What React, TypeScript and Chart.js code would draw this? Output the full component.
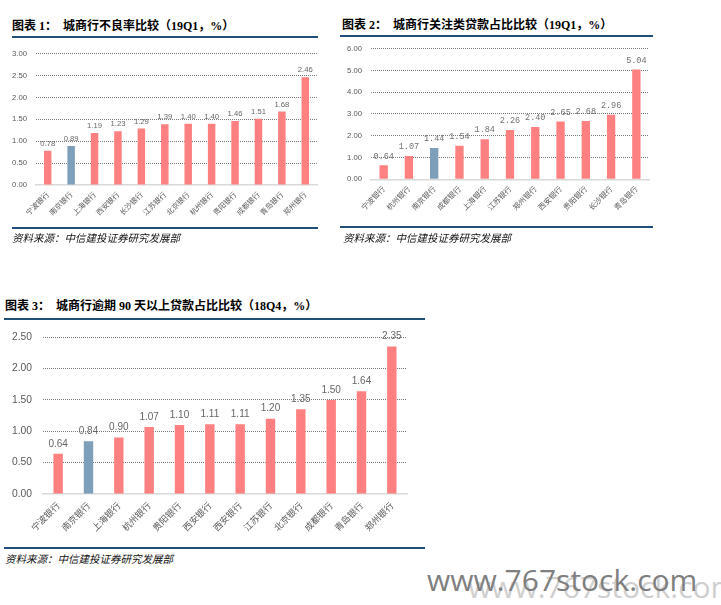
import React, { useEffect, useRef } from "react";
import { Chart, registerables } from "chart.js";

Chart.register(...registerables);

// ---------- data ----------
const banks1 = ["宁波银行", "南京银行", "上海银行", "西安银行", "长沙银行", "江苏银行", "北京银行", "杭州银行", "贵阳银行", "成都银行", "青岛银行", "郑州银行"];
const npl1 = [0.78, 0.89, 1.19, 1.23, 1.29, 1.39, 1.4, 1.4, 1.46, 1.51, 1.68, 2.46];
const ticks1 = [0, 0.5, 1, 1.5, 2, 2.5, 3];

const banks2 = ["宁波银行", "杭州银行", "南京银行", "成都银行", "上海银行", "江苏银行", "郑州银行", "西安银行", "贵阳银行", "长沙银行", "青岛银行"];
const special2 = [0.64, 1.07, 1.44, 1.54, 1.84, 2.26, 2.4, 2.65, 2.68, 2.96, 5.04];
const ticks2 = [0, 1, 2, 3, 4, 5, 6];

const banks3 = ["宁波银行", "南京银行", "上海银行", "杭州银行", "贵阳银行", "西安银行", "西安银行", "江苏银行", "北京银行", "成都银行", "青岛银行", "郑州银行"];
const overdue3 = [0.64, 0.84, 0.9, 1.07, 1.1, 1.11, 1.11, 1.2, 1.35, 1.5, 1.64, 2.35];
const ticks3 = [0, 0.5, 1, 1.5, 2, 2.5];

const highlightBank = "南京银行";
const PINK = "#ff8080";
const BLUE = "#7d9fba";
const LINE_BLUE = "#1f4e79";

type Cfg = {
  labels: string[];
  values: number[];
  ticks: number[];
  left: number;
  top: number;
  width: number;
  height: number;
  yWidth: number;
  xHeight: number;
  padding: { top: number; right: number; left: number; bottom: number };
  barPct: number;
  tickFont: number;
  tickPad: number;
  catFont: number;
  catPad: number;
  valFont: string;
  valColor: string;
  valOffset: number;
};

function BarChart({ cfg }: { cfg: Cfg }) {
  const ref = useRef<HTMLCanvasElement | null>(null);
  useEffect(() => {
    if (!ref.current) return;
    const valuePlugin = {
      id: "valueLabels",
      afterDatasetsDraw(chart: any) {
        const ctx = chart.ctx;
        const meta = chart.getDatasetMeta(0);
        const data = chart.data.datasets[0].data as number[];
        ctx.save();
        ctx.font = cfg.valFont;
        ctx.fillStyle = cfg.valColor;
        ctx.textAlign = "center";
        ctx.textBaseline = "middle";
        meta.data.forEach((bar: any, i: number) => {
          ctx.fillText(data[i].toFixed(2), bar.x, bar.y - cfg.valOffset);
        });
        ctx.restore();
      },
    };
    const chart = new Chart(ref.current, {
      type: "bar",
      data: {
        labels: cfg.labels,
        datasets: [
          {
            data: cfg.values,
            backgroundColor: cfg.labels.map((l) => (l === highlightBank ? BLUE : PINK)),
            barPercentage: cfg.barPct,
            categoryPercentage: 1,
          },
        ],
      },
      options: {
        animation: false,
        responsive: false,
        maintainAspectRatio: false,
        layout: { padding: cfg.padding },
        plugins: { legend: { display: false }, tooltip: { enabled: false }, title: { display: false } },
        scales: {
          x: {
            grid: { display: false, drawTicks: false },
            border: { display: true, color: "#d9d9d9", width: 1.5 },
            ticks: {
              autoSkip: false,
              maxRotation: 45,
              minRotation: 45,
              padding: cfg.catPad,
              color: "#595959",
              font: { family: '"Noto Sans CJK SC", sans-serif', size: cfg.catFont },
            },
            afterFit: (s: any) => {
              s.height = cfg.xHeight;
            },
          },
          y: {
            min: cfg.ticks[0],
            max: cfg.ticks[cfg.ticks.length - 1],
            afterBuildTicks: (s: any) => {
              s.ticks = cfg.ticks.map((v) => ({ value: v }));
            },
            grid: {
              drawTicks: false,
              color: (c: any) => (c.tick && c.tick.value === 0 ? "rgba(0,0,0,0)" : "#7a7a7a"),
              lineWidth: 1,
              borderDash: [1, 1],
            },
            border: { display: false, dash: [1, 1] },
            ticks: {
              padding: cfg.tickPad,
              color: "#595959",
              font: { family: '"Liberation Sans", Arial, sans-serif', size: cfg.tickFont },
              callback: (v: any) => Number(v).toFixed(2),
            },
            afterFit: (s: any) => {
              s.width = cfg.yWidth;
            },
          },
        },
      } as any,
      plugins: [valuePlugin],
    });
    return () => chart.destroy();
  }, [cfg]);
  return (
    <canvas
      ref={ref}
      width={cfg.width}
      height={cfg.height}
      style={{ position: "absolute", left: cfg.left, top: cfg.top, width: cfg.width, height: cfg.height }}
    />
  );
}

const cfg1: Cfg = {
  labels: banks1,
  values: npl1,
  ticks: ticks1,
  left: 0,
  top: 40,
  width: 320,
  height: 195,
  yWidth: 36,
  xHeight: 50,
  padding: { top: 12.7, right: 3, left: 0, bottom: 0 },
  barPct: 0.32,
  tickFont: 7.7,
  tickPad: 9,
  catFont: 7.3,
  catPad: 5,
  valFont: '7.7px "Liberation Sans", Arial, sans-serif',
  valColor: "#666666",
  valOffset: 7,
};

const cfg2: Cfg = {
  labels: banks2,
  values: special2,
  ticks: ticks2,
  left: 340,
  top: 35,
  width: 315,
  height: 195,
  yWidth: 31,
  xHeight: 50.7,
  padding: { top: 12.3, right: 6, left: 0, bottom: 0 },
  barPct: 0.33,
  tickFont: 7.7,
  tickPad: 9,
  catFont: 7.5,
  catPad: 5,
  valFont: '8.5px "Liberation Mono", monospace',
  valColor: "#707070",
  valOffset: 9,
};

const cfg3: Cfg = {
  labels: banks3,
  values: overdue3,
  ticks: ticks3,
  left: 0,
  top: 320,
  width: 410,
  height: 225,
  yWidth: 43,
  xHeight: 51,
  padding: { top: 12, right: 3, left: 0, bottom: 0 },
  barPct: 0.31,
  tickFont: 10.3,
  tickPad: 11,
  catFont: 9,
  catPad: 6,
  valFont: '10px "Liberation Sans", Arial, sans-serif',
  valColor: "#666666",
  valOffset: 10,
};

const titleFont = '"Liberation Serif", "Noto Sans CJK SC", serif';
const srcFont = '"Noto Sans CJK SC", sans-serif';

function Title({ left, cy, num, text }: { left: number; cy: number; num: string; text: string }) {
  return (
    <div
      style={{
        position: "absolute",
        left,
        top: cy - 8,
        lineHeight: "16px",
        fontSize: 12,
        fontWeight: 700,
        fontFamily: titleFont,
        color: "#000",
        whiteSpace: "nowrap",
      }}
    >
      <span>{"图表 " + num + "："}</span>
      <span style={{ marginLeft: 6 }}>{text}</span>
    </div>
  );
}

function Source({ left, cy }: { left: number; cy: number }) {
  return (
    <div
      style={{
        position: "absolute",
        left,
        top: cy - 8,
        lineHeight: "16px",
        fontSize: 10.5,
        fontStyle: "italic",
        fontFamily: srcFont,
        color: "#111",
        whiteSpace: "nowrap",
      }}
    >
      资料来源：中信建投证券研究发展部
    </div>
  );
}

function HLine({ left, top, width, h }: { left: number; top: number; width: number; h: number }) {
  return <div style={{ position: "absolute", left, top, width, height: h, background: LINE_BLUE }} />;
}

export default function App() {
  return (
    <div
      style={{
        position: "absolute",
        left: 0,
        top: 0,
        width: 721,
        height: 605,
        background: "#fff",
        overflow: "hidden",
      }}
    >
      <Title left={12} cy={26} num="1" text="城商行不良率比较（19Q1，%）" />
      <HLine left={12} top={36} width={306} h={2} />
      <BarChart cfg={cfg1} />
      <HLine left={12} top={227} width={306} h={1.5} />
      <Source left={12} cy={238} />

      <Title left={342} cy={25} num="2" text="城商行关注类贷款占比比较（19Q1，%）" />
      <HLine left={340} top={35} width={313} h={2} />
      <BarChart cfg={cfg2} />
      <HLine left={340} top={226} width={313} h={1.5} />
      <Source left={343} cy={238} />

      <Title left={5} cy={306} num="3" text="城商行逾期 90 天以上贷款占比比较（18Q4，%）" />
      <HLine left={4} top={318} width={421} h={2} />
      <BarChart cfg={cfg3} />
      <HLine left={4} top={547} width={421} h={1.5} />
      <Source left={5} cy={559} />

      <div
        style={{
          position: "absolute",
          left: 468,
          top: 569,
          fontSize: 30,
          lineHeight: "36px",
          fontFamily: '"Open Sans", sans-serif',
          color: "#cfcfcf",
          whiteSpace: "nowrap",
        }}
      >
        www.767stock.com
      </div>
      <div
        style={{
          position: "absolute",
          left: 427,
          top: 562,
          fontSize: 30,
          lineHeight: "36px",
          fontFamily: '"Open Sans", sans-serif',
          color: "#7f7f7f",
          whiteSpace: "nowrap",
        }}
      >
        www.767stock.com
      </div>
    </div>
  );
}
